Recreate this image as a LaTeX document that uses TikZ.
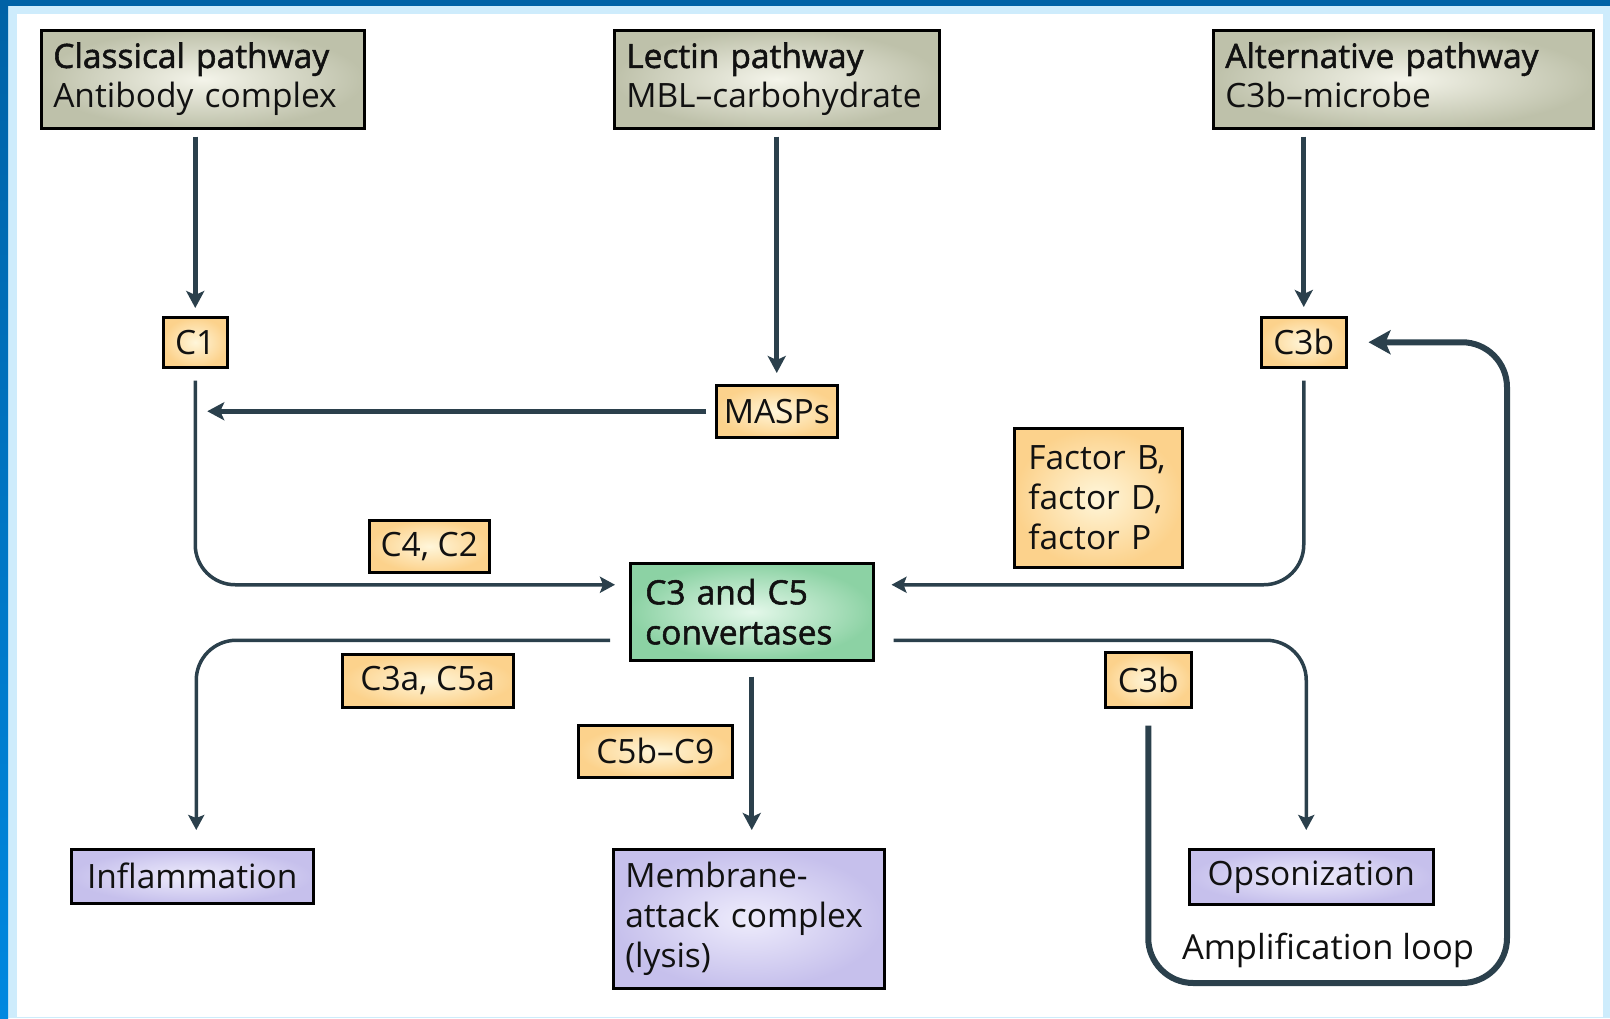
\documentclass[tikz,border=0pt]{standalone}
\usepackage{fontspec}
\setmainfont{Open Sans}
\newfontfamily\sbfont{Open Sans}[FakeBold=1.6]
\usetikzlibrary{arrows.meta}
\definecolor{lc}{RGB}{43,64,76}
\definecolor{txt}{RGB}{17,17,17}
\definecolor{tin}{RGB}{244,244,234}
\definecolor{tout}{RGB}{190,193,170}
\definecolor{oin}{RGB}{255,246,218}
\definecolor{oout}{RGB}{252,210,140}
\definecolor{gin}{RGB}{228,248,234}
\definecolor{gout}{RGB}{140,210,164}
\definecolor{pin}{RGB}{238,236,252}
\definecolor{pout}{RGB}{198,192,236}
\definecolor{darkblue}{RGB}{0,98,166}
\definecolor{brightblue}{RGB}{0,136,224}
\definecolor{lightblue}{RGB}{206,236,252}
\newcommand{\myfs}{\fontsize{33.5}{40}\selectfont}
\begin{document}
\begin{tikzpicture}[x=1pt,y=-1pt,
  box/.style={draw=black, line width=2.5pt, inner sep=0pt, font=\myfs, text=txt, anchor=north west, shading=radial},
  titlebox/.style={box, inner color=tin, outer color=tout, minimum height=98pt, align=left, inner xsep=12pt},
  obox/.style={box, inner color=oin, outer color=oout},
  gbox/.style={box, inner color=gin, outer color=gout},
  pbox/.style={box, inner color=pin, outer color=pout},
  thk/.style={draw=lc, line width=5pt, -{Stealth[length=17pt,width=18pt,inset=4pt]}},
  thn/.style={draw=lc, line width=3.5pt, rounded corners=40pt, -{Stealth[length=15pt,width=16pt,inset=3pt]}},
  loopline/.style={draw=lc, line width=6pt, rounded corners=45pt, -{Stealth[length=22pt,width=24pt,inset=5pt]}}
]
\useasboundingbox (0,0) rectangle (1610,1018);
% frame
\fill[lightblue] (0,0) rectangle (1610,1018);
\fill[white] (17,14) rectangle (1603,1017);
\fill[darkblue] (0,0) rectangle (1610,6);
\shade[top color=darkblue, bottom color=brightblue] (0,0) rectangle (8,1018);

% title boxes
\node[titlebox, text width=299pt] (cl) at (40,29) {{\sbfont Classical pathway}\\Antibody complex};
\node[titlebox, text width=301pt] (le) at (613,29) {{\sbfont Lectin pathway}\\MBL--carbohydrate};
\node[titlebox, text width=356pt] (al) at (1212,29) {{\sbfont Alternative pathway}\\C3b--microbe\vphantom{y}};

% orange boxes
\node[obox, minimum width=64pt, minimum height=50pt] (c1) at (162,316) {C1};
\node[obox, minimum width=121pt, minimum height=52pt] (masps) at (715,384) {MASPs};
\node[obox, minimum width=85pt, minimum height=50pt] (c3b) at (1260,316) {C3b};
\node[obox, text width=140pt, inner xsep=14pt, minimum height=139pt, align=left] (fb) at (1013,427) {Factor B,\\factor D,\\factor P};
\node[obox, minimum width=120pt, minimum height=52pt] (c4c2) at (368,519) {C4, C2};
\node[obox, minimum width=171pt, minimum height=53pt] (c3a) at (341,653) {C3a, C5a};
\node[obox, minimum width=154pt, minimum height=52pt] (c5b) at (577,724) {C5b--C9};
\node[obox, minimum width=86pt, minimum height=55pt] (c3bl) at (1104,651) {C3b};

% convertases
\node[gbox, text width=213pt, inner xsep=15pt, minimum height=97pt, align=left, font=\myfs\sbfont] (conv) at (629,562) {C3 and C5\\convertases};

% outcomes
\node[pbox, minimum width=242pt, minimum height=54pt] (infl) at (70,848) {Inflammation};
\node[pbox, text width=247pt, inner xsep=12pt, minimum height=139pt, align=left] (mac) at (612,848) {Membrane-\\attack complex\\(lysis)};
\node[pbox, minimum width=244pt, minimum height=55pt] (ops) at (1188,848) {Opsonization};
\node[font=\fontsize{34.5}{40}\selectfont, text=txt, inner sep=0pt] (amp) at (1328,950) {Amplification loop};

% connectors
\draw[thk, shorten <=7pt, shorten >=8pt] (cl.south -| c1.north) -- (c1.north);
\draw[thk, shorten <=7pt, shorten >=11pt] (le.south -| masps.north) -- (masps.north);
\draw[thk, shorten <=7pt, shorten >=9pt] (al.south -| c3b.north) -- (c3b.north);
\coordinate (mtip) at (c1.south |- masps.west);
\draw[thk, shorten <=9pt, shorten >=12pt] (masps.west) -- (mtip);
\draw[thn, shorten <=12pt, shorten >=14pt] (c1.south) |- ([yshift=27pt]conv.west);
\draw[thn, shorten <=12pt, shorten >=17pt] (c3b.south) |- ([yshift=27pt]conv.east);
\draw[thn, shorten <=19pt, shorten >=18pt] ([yshift=-28.5pt]conv.west) -| ([xshift=4pt]infl.north);
\draw[thn, shorten <=19pt, shorten >=18pt] ([yshift=-28.5pt]conv.east) -| ([xshift=-5pt]ops.north);
\draw[thk, shorten <=15pt, shorten >=18pt] (conv.south) -- (conv.south |- mac.north);
\coordinate (lr) at (1507,983);
\draw[loopline, shorten <=17pt, shorten >=21pt] (c3bl.south) |- (lr) |- (c3b.east);
\end{tikzpicture}
\end{document}
